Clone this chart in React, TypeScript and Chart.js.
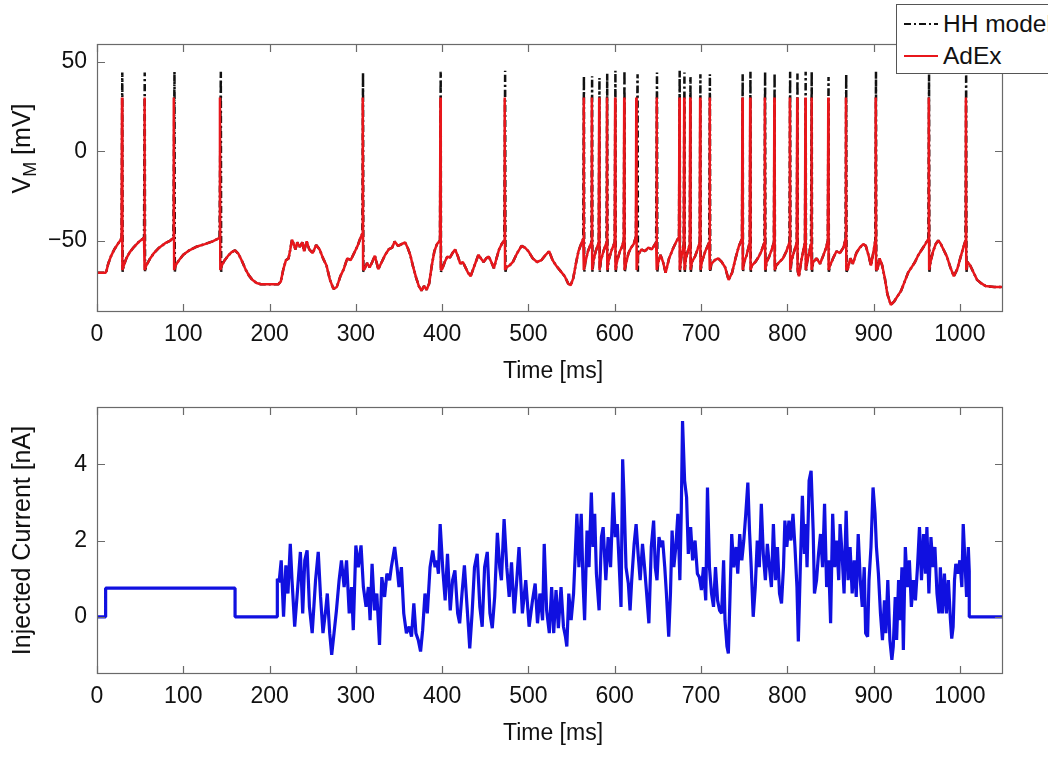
import React, { useEffect, useRef } from "react";
import { Chart, registerables } from "chart.js";
Chart.register(...registerables);

const FONT = '"Liberation Sans", Arial, Helvetica, sans-serif';

// ---------- Top panel: membrane potential ----------
const timeTicks = [0, 100, 200, 300, 400, 500, 600, 700, 800, 900, 1000];
const vmTicks = [-50, 0, 50];
const currentTicks = [0, 2, 4];

// sub-threshold membrane potential (shared by both models) [ms, mV]
const vmTrace: [number, number][] = [
  [0, -68], [10, -68], [11, -67], [13, -63], [16, -59], [20, -55], [24, -52], [27, -50], [28.5, -48.5],
  [31, -64], [34, -60], [38, -56.5], [43, -53.5], [49, -50.5], [54.5, -48.5],
  [57, -64], [61, -60.5], [66, -57], [72, -54], [79, -51.5], [85, -50], [88.5, -48.5],
  [91, -64], [95, -61], [100, -58], [107, -55.5], [115, -53.5], [125, -52], [134, -50.5], [142, -48.5],
  [144.5, -64], [148, -61], [152, -58.5], [156, -56.5], [160, -55.5], [164, -57.5], [168, -61.5], [172, -66],
  [176, -69.5], [180, -72], [185, -73.8], [190, -74.5], [200, -74.5], [210, -74.5], [213, -73], [216, -66],
  [219, -61], [222, -60], [224, -55], [226, -49.5], [228, -52], [230, -55], [232, -51], [235, -53.5], [238, -51],
  [240, -56], [243, -50.5], [246, -55], [250, -57], [254, -52.5], [258, -55], [262, -60], [266, -64], [270, -72],
  [274, -77], [278, -76], [282, -70], [286, -66], [290, -60], [294, -61], [298, -57], [302, -53], [305, -49], [307.5, -46],
  [310, -66], [313, -62.5], [316, -65], [319, -62], [322, -58.5], [326, -66], [330, -62], [334, -58], [338, -55],
  [342, -54], [345, -50.5], [349, -53], [353, -52], [357, -51], [360, -54], [363, -58], [366, -64], [370, -71],
  [373, -75.5], [376, -78], [379, -75.5], [382, -77.5], [385, -74], [388, -64], [391, -56], [394, -52], [397.5, -50],
  [400, -66], [403, -62], [406, -59], [409, -59.5], [412, -57], [415, -55], [418, -58.5], [421, -63], [424, -62],
  [427, -65], [430, -68], [433, -70], [436, -66], [439, -62], [442, -58], [445, -60], [448, -62], [451, -60],
  [454, -59], [457, -62], [460, -65.5], [463, -60], [466, -55], [469, -52], [472, -50],
  [474.5, -65], [478, -64], [482, -62], [487, -57], [492, -53], [496, -54], [500, -56], [505, -60], [510, -62],
  [515, -61], [520, -58], [524, -56], [528, -61], [532, -64], [537, -67], [542, -70], [546, -74], [549, -75],
  [552, -71], [555, -63], [558, -56], [561, -52], [563.5, -49],
  [566, -62], [569, -56], [573, -51],
  [575.5, -61], [578, -56], [581.5, -51],
  [584, -61], [587, -56], [590.5, -51],
  [593, -61], [596, -56], [600, -51],
  [602.5, -62], [606, -56], [608, -54], [610.5, -50],
  [613, -63], [616, -57], [619, -54], [622, -52], [624.5, -48],
  [627, -58], [631, -55], [635, -56], [639, -54], [643, -55], [648, -51],
  [650.5, -62], [653, -58], [656, -62], [659, -68], [663, -60], [668, -54], [672, -50], [674.5, -48],
  [677, -60], [680, -52],
  [682.5, -60], [687, -52],
  [689.5, -62], [693, -59], [696, -55], [698.5, -51],
  [701, -62], [705, -56], [709.5, -51],
  [712, -63], [716, -61], [720, -60], [724, -62], [728, -65], [732, -72], [736, -68], [740, -60], [744, -53], [747.5, -49],
  [750, -62], [753, -58], [756.5, -51],
  [759, -64], [763, -62], [767, -59], [770, -56], [773.5, -51],
  [776, -62], [779, -59], [782, -55], [784.5, -51],
  [787, -64], [791, -62], [795, -60], [799, -56], [802.5, -51],
  [805, -61], [808, -56], [811, -51],
  [813.5, -70], [816, -62], [820.5, -51],
  [823, -62], [827.5, -52],
  [830, -62], [834, -60], [838, -63], [842, -58], [845, -54], [847, -50],
  [849.5, -64], [853, -60], [857, -56], [861, -57], [865, -54], [867.5, -49],
  [870, -66], [873, -60], [876, -63], [880, -57], [884, -54], [888, -52], [891, -53], [894, -58], [897, -64], [900, -56], [902, -50],
  [904.5, -66], [907, -60], [910, -64], [913, -71], [916, -80], [920, -86], [924, -84], [928, -81], [932, -78],
  [936, -73], [940, -68], [944, -65], [948, -62], [952, -58], [956, -55], [960, -52], [963.5, -49],
  [966, -62], [969, -56], [972, -52], [975, -50], [978, -52], [981, -55], [985, -59], [989, -65], [993, -70],
  [997, -66], [1001, -59], [1004, -54], [1006.5, -50],
  [1009, -62], [1012, -64], [1016, -68], [1020, -72], [1025, -74], [1030, -75.5], [1040, -76], [1050, -76],
];

const adexSpikeTimes = [
  29, 55, 89, 142.5, 308, 398, 472.5, 564, 573.5, 582, 591, 600.5, 611, 625, 648.5,
  675, 680.5, 687.5, 699, 710, 748, 757, 774, 785, 803, 811.5, 821, 828, 847.5, 868, 902.5, 964, 1007,
];
const adexPeaks = adexSpikeTimes.map(() => 30);
const adexReset = -66.5;

const hhSpikeTimes = [
  29.3, 55.3, 89.8, 143.5, 308.3, 398.3, 473, 564.3, 573.8, 582.3, 591.3, 600.8, 611.3, 626.5, 649,
  675.3, 680.8, 687.8, 699.3, 710.3, 748.3, 757.3, 774.3, 785.3, 803.3, 811.8, 821.3, 828.3, 847.8, 868.3, 902.8, 964.3, 1007.3,
];
const hhPeaks = [
  44, 44, 44.5, 44.5, 44, 44.5, 45, 42, 42, 41, 43.5, 45, 45, 43, 44,
  45, 44, 41.5, 43, 43, 43, 44.5, 44.5, 43.5, 44.5, 43.5, 44.5, 44.5, 41.5, 43, 44.5, 43, 44.5,
];
const hhReset = -67.5;

// ---------- Bottom panel: injected current [ms, nA] ----------
const currentTrace: [number, number][] = [
  [0, 0], [10, 0], [10, 0.75], [160, 0.75], [160, 0], [209, 0], [209, 1.0], [211, 0.9],
  [213.5, 1.48], [216.2, 0.0], [218.9, 1.35], [221.3, 0.61], [224, 1.91], [226, 0.96], [229.1, -0.26], [231.8, 0.52],
  [235.7, 1.7], [238.4, 0.09], [240.8, 1.48], [243.5, 1.74], [246.2, 0.26], [249.4, -0.43], [253.3, 0.96], [256.4, 1.7],
  [259.1, 0.52], [261.9, -0.43], [265, 0.17], [266.9, 0.61], [269.7, -0.43], [272, -1.0], [274.7, -0.43], [277.5, 0.17],
  [280.6, 0.96], [283.3, 1.48], [286.4, 0.78], [289.2, 1.48], [292.3, 0.09], [295, 0.78], [297, -0.35], [300, 1.87],
  [302.8, 1.3], [306, 1.87], [308.7, 0.78], [311.8, 0.26], [314.5, 0.78], [316.5, -0.09], [318.8, 1.39], [321.6, 0.17],
  [324.3, 0.61], [327.4, -0.74], [330.1, 1.04], [333.3, 0.52], [336, 1.13], [339.1, 0.96], [341.1, 1.3], [345, 1.83],
  [347.7, 1.3], [350, 0.78], [352.8, 1.3], [355.5, 0.09], [358.6, -0.43], [361.8, -0.26], [364.5, -0.52], [367.2, 0.35],
  [369.6, -0.43], [372.3, -0.61], [375, -0.91], [377.4, -0.35], [380.1, 0.61], [382.8, 0.09], [386, 1.3], [389.1, 1.74],
  [391.8, 1.3], [393.8, 1.48], [395.7, 1.13], [397.7, 2.43], [400.8, 1.22], [403.5, 0.43], [406.2, 1.65], [409.4, 0.17],
  [412.1, 0.96], [414.8, 1.22], [418, 0.09], [420.3, -0.17], [423, 0.61], [425.8, 1.35], [428.9, 0.26], [432, -0.83],
  [434.7, 0.09], [437.5, 1.3], [440.6, 1.65], [443.7, 0.26], [446.4, -0.26], [449.2, 1.3], [452.3, 1.7], [455.4, 0.09],
  [458.1, -0.3], [460.9, 0.52], [464, 2.2], [466.7, 1.3], [468.7, 0.96], [471.8, 2.56], [474.9, 1.3], [477.7, 0.52],
  [480.4, 1.43], [483.5, 0.09], [486.2, 0.87],
  [489.1, 1.83], [493, 0.09], [496.9, 0.96], [500.8, -0.26], [504.7, 0.43], [507.8, 0.87], [510.5, -0.17], [513.3, 0.61],
  [516.4, -0.09], [518.3, 1.91], [521.1, 0.17], [524.2, -0.43], [526.9, 0.78], [529.3, -0.43], [532, 0.7], [534.7, -0.3],
  [537.8, 0.78], [540.6, -0.26], [542.9, -0.52], [544.5, -0.78], [546.8, 0.61], [549.5, -0.09], [552.3, 0.61], [554.6, 1.83],
  [556.2, 2.7], [558.5, 1.3], [561.2, 2.7], [563.2, 0.96], [565.1, -0.09], [567.9, 2.26], [570.2, 1.3], [572.9, 3.26],
  [574.9, 1.83], [576.8, 2.7], [578.8, 1.13], [581.9, 0.17], [584.6, 2.09], [586.6, 2.35], [589.7, 0.96], [592.4, 2.09],
  [595.2, 1.3], [598.3, 3.26], [600.6, 2.09], [603, 2.43], [605.3, 1.3], [607.3, 0.26], [609.2, 4.13], [610.8, 3.13],
  [613.1, 1.3], [615.8, 0.87], [617.8, 0.17], [619.7, 0.96], [622.5, 1.91], [624.8, 2.43], [627.1, 1.65], [629.5, 0.96],
  [632.2, 1.91], [634.6, 1.3], [637.3, 0.52], [639.6, -0.17], [642.4, 1.83], [645.1, 2.52], [647, 1.3], [649, 0.96],
  [651.3, 2.09], [653.7, 1.83], [655.6, 2.0], [658, 1.3], [659.9, 0.61], [662.6, -0.52], [664.6, 0.61], [666.5, 2.26],
  [668.5, 1.3], [670.8, 1.83], [673.2, 2.7], [675.5, 0.96], [677.1, 2.7], [678.6, 5.13], [681, 3.57], [683.3, 3.13],
  [685.3, 1.65], [688, 2.35], [690.3, 1.48], [693.1, 2.0], [695.8, 1.13], [698.1, 1.04], [700.5, 0.7], [702.8, 1.3],
  [705.5, 0.43], [707.5, 3.39], [709.8, 1.3], [712.2, 0.61], [714.5, 0.26], [716.8, 1.3], [719.2, 0.43], [721.5, 0.17],
  [723.9, 0.09], [726.2, 1.48], [727.8, -0.09], [730.1, -0.78], [731.7, -0.96], [733.6, 0.52], [735.6, 2.17], [737.9, 1.3],
  [740.6, 1.83], [742.6, 1.13], [744.9, 2.17], [747.3, 1.48], [749.6, 2.0], [751.9, 2.7], [754.3, 3.52], [756.2, 2.26],
  [758.2, 1.3], [760.5, 0.0], [762.9, 0.78], [765.2, 2.0], [767.6, 1.3], [769.9, 2.96], [772.2, 1.65], [774.6, 0.96],
  [776.9, 1.91], [779.3, 1.3], [781.6, 0.78], [783.9, 2.43], [786.3, 0.96], [788.6, 1.83], [791, 0.61], [793.3, 0.35],
  [795.6, 1.3], [797.2, 2.52], [799.5, 1.83], [801.9, 2.52], [804.2, 2.0], [806.6, 2.7], [808.9, 1.83], [811.2, 0.78],
  [812.8, -0.65], [815.1, 1.3], [817.5, 3.17], [819.8, 1.65], [821.4, 2.43], [822.9, 1.3], [825.3, 3.57], [827.6, 3.83],
  [830, 2.26], [831.5, 0.61], [833.9, 0.96], [836.2, 1.65], [838.5, 2.17], [840.9, 1.3], [843.2, 2.96], [845.6, 0.78],
  [847.9, 1.48], [850.2, -0.17], [852.6, 2.7], [854.9, 1.3], [857.3, 2.0], [859.6, 0.96], [861.2, 2.43], [863.5, 1.65],
  [865.8, 0.61], [868.2, 2.78], [870.5, 0.96], [872.8, 1.83], [875.2, 0.61], [877.5, 1.48], [879.9, 0.52], [882.2, 2.17],
  [884.6, 0.96], [886.9, 0.26], [889.2, 1.3], [890.8, -0.43], [893.1, -0.52], [894.7, 0.96], [897, 1.83], [899.4, 3.39],
  [901.7, 2.7], [903.3, 1.83], [905.6, 1.13], [908, 0.09], [910.3, -0.61], [912.6, 0.43], [914.2, -0.43], [916.5, 0.96],
  [918.9, -0.61], [921.2, -1.13], [922.8, -0.78], [925.1, 0.52], [926.7, -0.61], [929, 0.96], [930.6, -0.09], [932.9, 1.3],
  [934.5, -0.87], [936.8, 1.83], [939.2, 0.78], [941.5, 1.48], [943.8, 0.26], [946.2, 0.96], [948.5, 0.43], [950.9, 1.3],
  [953.2, 2.35], [955.5, 0.96], [957.9, 2.17], [960.2, 1.13], [961.8, 2.35], [964.1, 0.61], [966.5, 2.09], [968.8, 1.3],
  [971.1, 1.83], [973.5, 0.61], [975.8, 0.09], [977.4, 1.3], [979.7, 0.09], [982.1, 1.13], [984.4, 0.09], [986.7, 0.96],
  [989.1, -0.09], [990.6, -0.57], [992.2, -0.26], [993.8, 0.96], [995.3, 1.39], [997.7, 1.13], [1000, 1.48], [1002.3, 0.78],
  [1003.9, 2.43], [1006.2, 1.3], [1007.8, 0.52], [1009.8, 1.83], [1010.9, 1.2], [1010.9, 0], [1050, 0],
];

// ---------- helpers ----------
function buildSpikingTrace(base: [number, number][], spikes: number[], peaks: number[], reset: number) {
  const pts = base.map(([x, y]) => ({ x, y }));
  spikes.forEach((t, i) => {
    pts.push({ x: t, y: peaks[i] });
    pts.push({ x: t + 0.4, y: reset });
  });
  pts.sort((a, b) => a.x - b.x);
  return pts;
}

function makeFramePlugin(xTicks: number[], yTicks: number[]) {
  return {
    id: "frameTicks",
    afterDraw(chart: any) {
      const { ctx, chartArea: a, scales } = chart;
      const xs = scales.x;
      const ys = scales.y;
      ctx.save();
      ctx.strokeStyle = "#6a6a6a";
      ctx.lineWidth = 1.2;
      ctx.strokeRect(a.left + 0.5, a.top + 0.5, a.right - a.left - 1, a.bottom - a.top - 1);
      const L = 8;
      ctx.beginPath();
      for (const v of xTicks) {
        const px = Math.round(xs.getPixelForValue(v)) + 0.5;
        ctx.moveTo(px, a.bottom);
        ctx.lineTo(px, a.bottom - L);
        ctx.moveTo(px, a.top);
        ctx.lineTo(px, a.top + L);
      }
      for (const v of yTicks) {
        const py = Math.round(ys.getPixelForValue(v)) + 0.5;
        ctx.moveTo(a.left, py);
        ctx.lineTo(a.left + L, py);
        ctx.moveTo(a.right, py);
        ctx.lineTo(a.right - L, py);
      }
      ctx.stroke();
      ctx.restore();
    },
  };
}

type Part = { text: string; size: number; dy: number };

function makeTitlesPlugin(xTitle: string, yParts: Part[], yCenter: number | null) {
  return {
    id: "axisTitles",
    afterDraw(chart: any) {
      const { ctx, chartArea: a } = chart;
      ctx.save();
      ctx.fillStyle = "#111";
      ctx.font = `23px ${FONT}`;
      ctx.textAlign = "center";
      ctx.textBaseline = "middle";
      ctx.fillText(xTitle, (a.left + a.right) / 2 + 3, a.bottom + 60);

      const cy = yCenter == null ? (a.top + a.bottom) / 2 : yCenter;
      ctx.translate(21, cy);
      ctx.rotate(-Math.PI / 2);
      ctx.textAlign = "left";
      ctx.textBaseline = "alphabetic";
      let total = 0;
      for (const p of yParts) {
        ctx.font = `${p.size}px ${FONT}`;
        total += ctx.measureText(p.text).width;
      }
      let x = -total / 2;
      const base = 0.358 * 25;
      for (const p of yParts) {
        ctx.font = `${p.size}px ${FONT}`;
        ctx.fillText(p.text, x, base + p.dy);
        x += ctx.measureText(p.text).width;
      }
      ctx.restore();
    },
  };
}

const minusFmt = (v: number) => (v < 0 ? "\u2212" + Math.abs(v) : String(v));

function makeOptions(opts: {
  ymin: number; ymax: number; yTicks: number[]; padTop: number; xAxisHeight: number;
}) {
  return {
    responsive: false,
    maintainAspectRatio: false,
    animation: false as const,
    events: [] as any[],
    layout: { padding: { top: opts.padTop, right: 45, left: 0, bottom: 0 } },
    plugins: { legend: { display: false }, tooltip: { enabled: false }, title: { display: false } },
    elements: { point: { radius: 0 } },
    scales: {
      x: {
        type: "linear" as const,
        min: 0,
        max: 1050,
        grid: { display: false, drawTicks: false },
        border: { display: false },
        afterBuildTicks: (s: any) => { s.ticks = timeTicks.map((v) => ({ value: v })); },
        afterFit: (s: any) => { s.height = opts.xAxisHeight; },
        ticks: {
          autoSkip: false, maxRotation: 0, padding: 9, color: "#111",
          font: { family: FONT, size: 23 },
          callback: (v: any) => minusFmt(Number(v)),
        },
      },
      y: {
        type: "linear" as const,
        min: opts.ymin,
        max: opts.ymax,
        grid: { display: false, drawTicks: false },
        border: { display: false },
        afterBuildTicks: (s: any) => { s.ticks = opts.yTicks.map((v) => ({ value: v })); },
        afterFit: (s: any) => { s.width = 97; },
        ticks: {
          autoSkip: false, padding: 10, color: "#111",
          font: { family: FONT, size: 23 },
          callback: (v: any) => minusFmt(Number(v)),
        },
      },
    },
  };
}

export default function App() {
  const topRef = useRef<HTMLCanvasElement | null>(null);
  const botRef = useRef<HTMLCanvasElement | null>(null);

  useEffect(() => {
    const adex = buildSpikingTrace(vmTrace, adexSpikeTimes, adexPeaks, adexReset);
    const hh = buildSpikingTrace(vmTrace, hhSpikeTimes, hhPeaks, hhReset);
    const top = new Chart(topRef.current as HTMLCanvasElement, {
      type: "line",
      data: {
        datasets: [
          {
            label: "AdEx", data: adex, borderColor: "#e8161b", borderWidth: 2.5,
            pointRadius: 0, tension: 0, borderJoinStyle: "bevel",
          },
          {
            label: "HH model", data: hh, borderColor: "#111111", borderWidth: 2.5,
            borderDash: [7, 3, 2, 3], pointRadius: 0, tension: 0, borderJoinStyle: "bevel",
          },
        ],
      },
      options: {
        ...makeOptions({ ymin: -90, ymax: 60, yTicks: vmTicks, padTop: 44, xAxisHeight: 88 }),
        parsing: false,
      } as any,
      plugins: [
        makeFramePlugin(timeTicks, vmTicks),
        makeTitlesPlugin("Time [ms]", [
          { text: "V", size: 25, dy: 0 },
          { text: "M", size: 18, dy: 6 },
          { text: " [mV]", size: 25, dy: 0 },
        ], 148.5),
      ],
    });

    const bot = new Chart(botRef.current as HTMLCanvasElement, {
      type: "line",
      data: {
        datasets: [
          {
            label: "Injected current",
            data: currentTrace.map(([x, y]) => ({ x, y })),
            borderColor: "#1010e0", borderWidth: 3.2, pointRadius: 0, tension: 0,
            borderJoinStyle: "bevel",
          },
        ],
      },
      options: {
        ...makeOptions({ ymin: -1.5, ymax: 5.5, yTicks: currentTicks, padTop: 27, xAxisHeight: 87 }),
        parsing: false,
      } as any,
      plugins: [
        makeFramePlugin(timeTicks, currentTicks),
        makeTitlesPlugin("Time [ms]", [{ text: "Injected Current [nA]", size: 25, dy: 0 }], null),
      ],
    });

    return () => {
      top.destroy();
      bot.destroy();
    };
  }, []);

  return (
    <div
      style={{
        position: "fixed", left: 0, top: 0, width: 1048, height: 761,
        overflow: "hidden", background: "#fff", fontFamily: FONT,
      }}
    >
      <canvas ref={topRef} width={1048} height={400}
        style={{ position: "absolute", left: 0, top: 0, width: 1048, height: 400 }} />
      <canvas ref={botRef} width={1048} height={381}
        style={{ position: "absolute", left: 0, top: 380, width: 1048, height: 381 }} />
      <div
        style={{
          position: "absolute", left: 896, top: 4, width: 200, height: 70,
          boxSizing: "border-box", border: "1px solid #555", background: "#fff",
        }}
      >
        <svg width={50} height={68} style={{ position: "absolute", left: 0, top: 0 }}>
          <line x1={7} y1={19} x2={41} y2={19} stroke="#111" strokeWidth={2.2} strokeDasharray="7 3 2 3" />
          <line x1={7} y1={51} x2={41} y2={51} stroke="#e8161b" strokeWidth={2.2} />
        </svg>
        <span style={{ position: "absolute", left: 46, top: 7, fontSize: 24.5, lineHeight: "24px", color: "#111", whiteSpace: "nowrap" }}>
          HH model
        </span>
        <span style={{ position: "absolute", left: 46, top: 39, fontSize: 24.5, lineHeight: "24px", color: "#111", whiteSpace: "nowrap" }}>
          AdEx
        </span>
      </div>
    </div>
  );
}
